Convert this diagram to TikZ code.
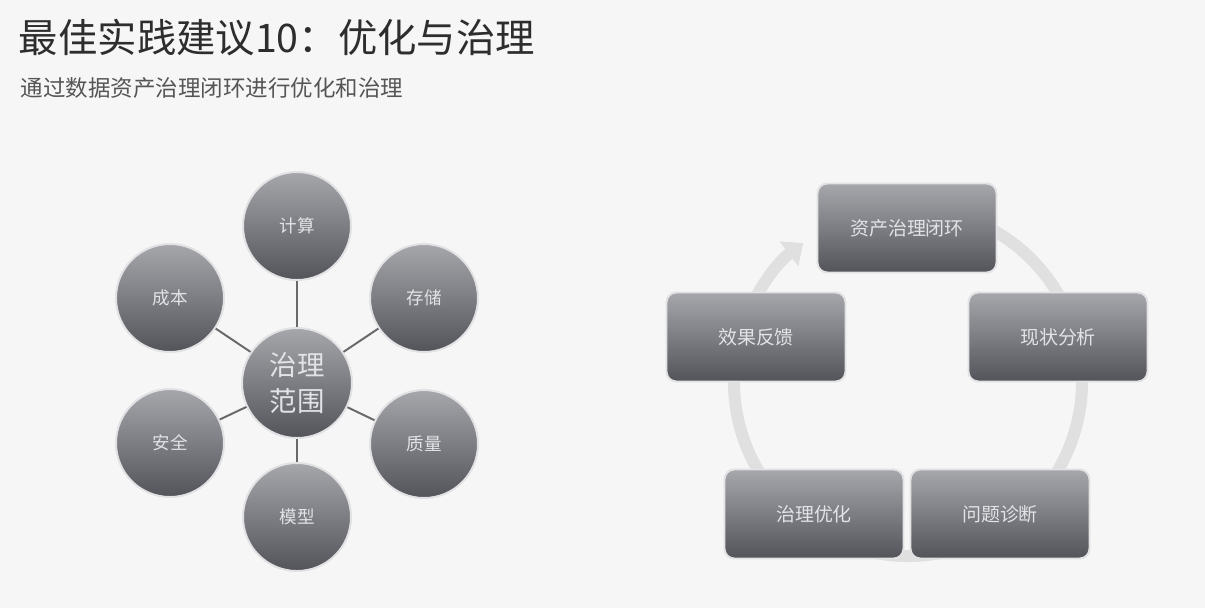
\documentclass[tikz,border=0pt]{standalone}
\usepackage{fontspec}
\setmainfont{Noto Sans CJK SC}
\usepackage{tikz}
\usetikzlibrary{positioning,arrows.meta}
\definecolor{PageGray}{RGB}{246,246,246}
\definecolor{TitleGray}{RGB}{45,45,45}
\definecolor{SubGray}{RGB}{85,85,85}
\definecolor{ShapeTop}{RGB}{166,167,171}
\definecolor{ShapeBottom}{RGB}{82,84,90}
\definecolor{EdgeSilver}{RGB}{226,226,228}
\definecolor{SpokeGray}{RGB}{105,105,108}
\definecolor{RingGray}{RGB}{224,224,224}
\definecolor{LabelWhite}{RGB}{226,227,230}

\begin{document}
\begin{tikzpicture}[
    >={Triangle[length=0.45cm,width=0.75cm]},
    ball/.style={
        circle,
        draw=EdgeSilver,
        line width=1.4pt,
        top color=ShapeTop,
        bottom color=ShapeBottom,
        text=LabelWhite,
        align=center,
        minimum size=2.7cm,
        font=\fontsize{12.5}{15}\selectfont
    },
    hub/.style={
        ball,
        minimum size=2.75cm,
        font=\fontsize{19.5}{25}\selectfont
    },
    stage/.style={
        draw=EdgeSilver,
        line width=1.4pt,
        rounded corners=7pt,
        top color=ShapeTop,
        bottom color=ShapeBottom,
        text=LabelWhite,
        align=center,
        minimum width=4.475cm,
        minimum height=2.225cm,
        font=\fontsize{13.5}{16}\selectfont
    },
    spoke/.style={
        line width=1.4pt,
        draw=SpokeGray
    },
    ring/.style={
        ->,
        line width=0.3cm,
        draw=RingGray
    }
]

\fill[PageGray] (0,0) rectangle (30.125,-15.2);

\node[anchor=west,text=TitleGray,font=\fontsize{28}{32}\selectfont] (title) at (0.35,-0.95) {最佳实践建议10：优化与治理};
\node[anchor=west,text=SubGray,font=\fontsize{16}{19}\selectfont] (subtitle) at (0.4,-2.2) {通过数据资产治理闭环进行优化和治理};

\node[hub] (scope) at (7.425,-9.575) {治理\\范围};
\node[ball] (compute) at (7.425,-5.65) {计算};
\node[ball] (storage) at (10.6,-7.45) {存储};
\node[ball] (quality) at (10.6,-11.1) {质量};
\node[ball] (model) at (7.425,-12.925) {模型};
\node[ball] (security) at (4.25,-11.075) {安全};
\node[ball] (cost) at (4.25,-7.45) {成本};

\draw[spoke] (scope) -- (compute);
\draw[spoke] (scope) -- (storage);
\draw[spoke] (scope) -- (quality);
\draw[spoke] (scope) -- (model);
\draw[spoke] (scope) -- (security);
\draw[spoke] (scope) -- (cost);

\coordinate (loop) at (22.7,-9.55);
\draw[ring] (loop) ++(70:4.35) arc[start angle=70,end angle=-233,radius=4.35];

\node[stage] (closed) at (22.675,-5.7) {资产治理闭环};
\node[stage] (status) at (26.45,-8.425) {现状分析};
\node[stage] (diagnose) at (25,-12.85) {问题诊断};
\node[stage] (optimize) at (20.35,-12.85) {治理优化};
\node[stage] (feedback) at (18.9,-8.425) {效果反馈};

\end{tikzpicture}
\end{document}
